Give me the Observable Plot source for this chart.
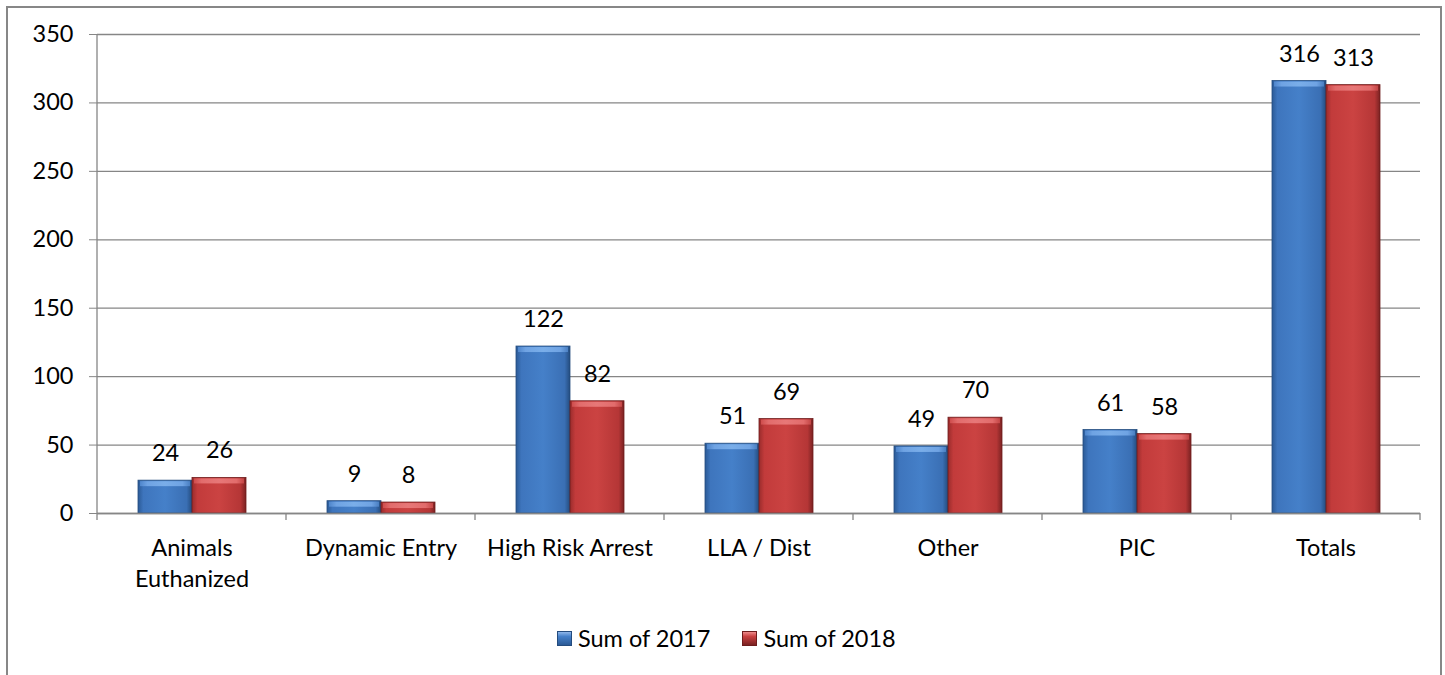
<!DOCTYPE html>
<html>
<head>
<meta charset="utf-8">
<script src="https://cdn.jsdelivr.net/npm/d3@7"></script>
<script src="https://cdn.jsdelivr.net/npm/@observablehq/plot@0.6"></script>
<style>
  html, body { margin: 0; padding: 0; background: #fff; }
  body { width: 1445px; height: 675px; position: relative; overflow: hidden; font-family: Lato, "Open Sans", sans-serif; }
  #border { position: absolute; left: 6px; top: 6px; width: 1436px; height: 700px; box-sizing: border-box; border: 2px solid #878787; }
  #chart { position: absolute; left: 0; top: 0; }
  #legend { position: absolute; left: 557px; top: 624px; display: flex; font-size: 23.5px; color: #000; }
  .item { display: flex; align-items: center; margin: 0 32px 0 0; }
  .sw { width: 15px; height: 15px; margin-right: 6px; box-sizing: border-box; }
</style>
</head>
<body>
<div id="border"></div>
<div id="chart"></div>
<div id="legend"></div>
<script>
// ---- data ----
const categories = ["Animals Euthanized", "Dynamic Entry", "High Risk Arrest", "LLA / Dist", "Other", "PIC", "Totals"];
const tickLabels = ["Animals\nEuthanized", "Dynamic Entry", "High Risk Arrest", "LLA / Dist", "Other", "PIC", "Totals"];
const seriesNames = ["Sum of 2017", "Sum of 2018"];
const values2017 = [24, 9, 122, 51, 49, 61, 316];
const values2018 = [26, 8, 82, 69, 70, 58, 313];
const yTicks = [0, 50, 100, 150, 200, 250, 300, 350];
const seriesColors = ["url(#gradBlue)", "url(#gradRed)"];
const seriesTopColors = ["url(#gradBlueTop)", "url(#gradRedTop)"];

const rows = [];
categories.forEach((c, i) => {
  rows.push({category: c, series: seriesNames[0], value: values2017[i]});
  rows.push({category: c, series: seriesNames[1], value: values2018[i]});
});

const gridColor = "#868686";

const plot = Plot.plot({
  width: 1445,
  height: 600,
  marginLeft: 97,
  marginRight: 25,
  marginTop: 34,
  marginBottom: 87,
  style: {fontFamily: "Lato, 'Open Sans', sans-serif", fontSize: "23.5px", color: "#000", background: "transparent", overflow: "visible"},
  fx: {domain: categories, padding: 0, label: null},
  x: {domain: seriesNames, paddingInner: 0, paddingOuter: 0.75, axis: null},
  y: {domain: [0, 350], label: null},
  color: {domain: seriesNames, range: seriesColors},
  marks: [
    Plot.gridY(yTicks, {stroke: gridColor, strokeOpacity: 1, strokeWidth: 1.3}),
    Plot.axisY(yTicks, {tickSize: 8, tickPadding: 16, stroke: gridColor, strokeOpacity: 1, fill: "#000", fontSize: 23.5, label: null}),
    Plot.axisFx({anchor: "bottom", tickSize: 0, tickPadding: 20, lineHeight: 1.33, fontSize: 23.5, fill: "#000", label: null,
      tickFormat: d => tickLabels[categories.indexOf(d)]}),
    Plot.barY(rows, {fx: "category", x: "series", y: "value", fill: "series", stroke: d => d.series === seriesNames[0] ? "#244c7e" : "#6e1c1c", strokeWidth: 0.8}),
    // bevel highlight along the top of each bar
    Plot.barY(rows, {fx: "category", x: "series", y1: "value", y2: "value", insetBottom: -6, insetLeft: 2, insetRight: 2, insetTop: 1,
      fill: d => seriesTopColors[seriesNames.indexOf(d.series)]}),
    Plot.ruleY([0], {stroke: gridColor, strokeWidth: 1.3}),
    Plot.text(rows, {fx: "category", x: "series", y: "value", text: d => String(d.value), dy: -27, fontSize: 23.5, fill: "#000"})
  ]
});

document.getElementById("chart").appendChild(plot);

// gradient definitions for the bevelled bars
const svg = d3.select(plot.tagName.toLowerCase() === "svg" ? plot : plot.querySelector("svg"));
const defs = svg.insert("defs", ":first-child");
function grad(id, stops) {
  const g = defs.append("linearGradient").attr("id", id).attr("x1", 0).attr("x2", 1).attr("y1", 0).attr("y2", 0);
  stops.forEach(([o, c]) => g.append("stop").attr("offset", o).attr("stop-color", c));
}
grad("gradBlue", [[0, "#2b5a96"], [0.1, "#3e75bd"], [0.5, "#4580c9"], [0.9, "#3a6fb4"], [1, "#244c7e"]]);
grad("gradRed", [[0, "#9a2c2c"], [0.1, "#c23b3b"], [0.5, "#cb4342"], [0.9, "#b53636"], [1, "#7a2222"]]);
grad("gradBlueTop", [[0, "#4f86cc"], [0.15, "#6fa3e3"], [0.5, "#7aaee9"], [0.85, "#6fa3e3"], [1, "#4a7fc2"]]);
grad("gradRedTop", [[0, "#cf4d4d"], [0.15, "#e26c6c"], [0.5, "#e77878"], [0.85, "#e26c6c"], [1, "#c44646"]]);

// category boundary ticks and vertical axis line, positioned from Plot's scales
const fx = plot.scale("fx");
const y = plot.scale("y");
const n = fx.domain.length;
const x0 = fx.range[0], x1 = fx.range[1];
const step = (x1 - x0) / n;
const y0 = y.apply(0), yTop = y.apply(350);
const g = svg.append("g").attr("stroke", gridColor).attr("stroke-width", 1.3);
for (let i = 0; i <= n; i++) {
  const xx = x0 + i * step;
  g.append("line").attr("x1", xx).attr("x2", xx).attr("y1", i === 0 ? yTop : y0).attr("y2", y0 + 7);
}

// legend
const legend = document.getElementById("legend");
const swatchCss = [
  "linear-gradient(to bottom, #8fb7ea 0%, #4580c9 35%, #2b5a96 100%)",
  "linear-gradient(to bottom, #ee8a8a 0%, #c94040 35%, #7a2222 100%)"
];
seriesNames.forEach((s, i) => {
  const it = document.createElement("div");
  it.className = "item";
  const sw = document.createElement("div");
  sw.className = "sw";
  sw.style.background = swatchCss[i];
  sw.style.border = "1px solid " + (i === 0 ? "#244c7e" : "#6e1c1c");
  const t = document.createElement("span");
  t.textContent = s;
  it.appendChild(sw);
  it.appendChild(t);
  legend.appendChild(it);
});
</script>
</body>
</html>
